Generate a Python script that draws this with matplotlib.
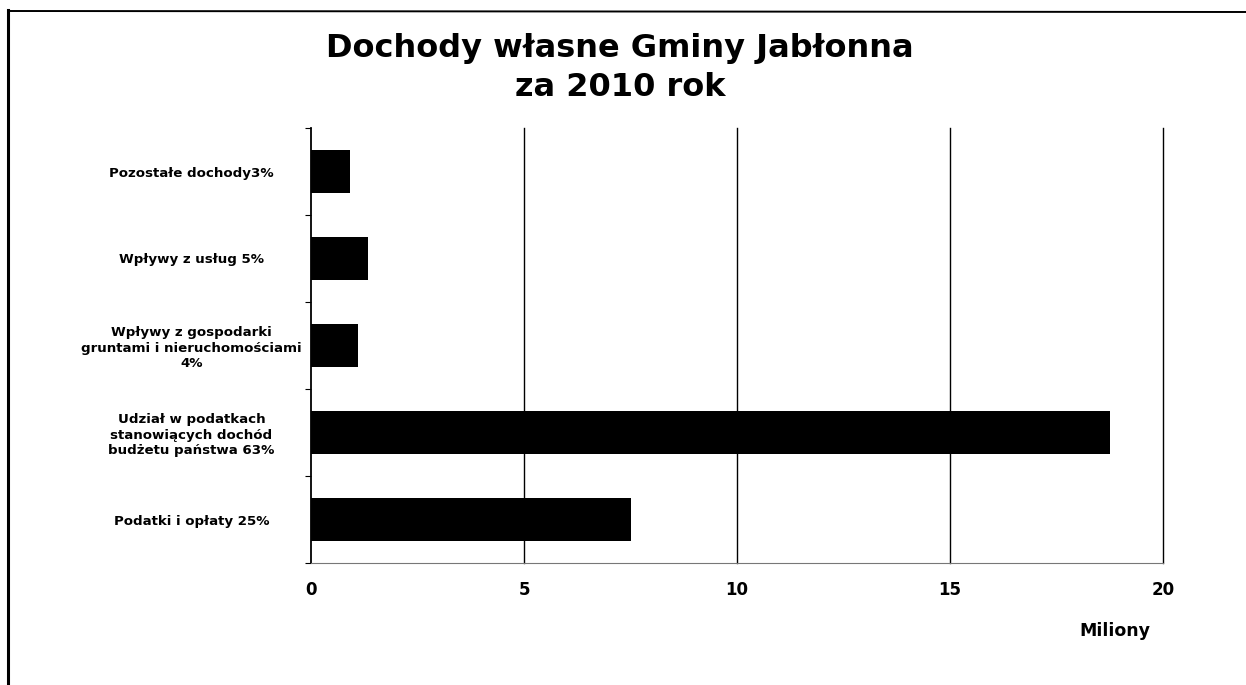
import matplotlib.pyplot as plt
from matplotlib.lines import Line2D

plt.rcParams['font.family'] = ['DejaVu Sans']

# categories bottom -> top
labels = ["Podatki i opłaty 25%",
          "Udział w podatkach\nstanowiących dochód\nbudżetu państwa 63%",
          "Wpływy z gospodarki\ngruntami i nieruchomościami\n4%",
          "Wpływy z usług 5%",
          "Pozostałe dochody3%"]
values = [7.52, 18.75, 1.10, 1.34, 0.92]
xticks = [0, 5, 10, 15, 20]

fig = plt.figure(figsize=(12.46, 6.85), dpi=100)
ax = fig.add_axes([311/1246, 1 - 563/685, (1163-311)/1246, (563-128)/685])

pos = list(range(len(values)))
ax.barh(pos, values, height=0.5, color="black", zorder=3)

ax.set_xlim(0, 20)
ax.set_ylim(-0.5, 4.5)
ax.set_xticks(xticks)
ax.set_xticklabels([str(t) for t in xticks], fontsize=12, fontweight="bold")
ax.tick_params(axis="x", length=0, pad=13)
ax.set_xticks([0], minor=True)
ax.tick_params(axis="x", which="minor", length=5, width=1.3)
for t in xticks[1:]:
    ax.axvline(t, color="black", linewidth=1.0, zorder=1, clip_on=False)

ax.set_yticks(pos)
ax.set_yticklabels(labels, fontsize=9.6, fontweight="bold", ha="center",
                   linespacing=1.22)
ax.tick_params(axis="y", length=0, pad=86)
ax.set_yticks([p - 0.5 for p in pos] + [4.5], minor=True)
ax.tick_params(axis="y", which="minor", length=4, width=0.8, direction="out")

for s in ["top", "right"]:
    ax.spines[s].set_visible(False)
ax.spines["left"].set_linewidth(1.3)
ax.spines["bottom"].set_color("#777777")
ax.spines["bottom"].set_linewidth(0.8)
ax.spines["bottom"].set_linestyle((0, (2, 1)))

fig.text(620/1246, 1 - 68/685, "Dochody własne Gminy Jabłonna\nza 2010 rok",
         ha="center", va="center", fontsize=23, fontweight="bold",
         linespacing=1.3)
fig.text(1115/1246, 1 - 631/685, "Miliony", ha="center", va="center",
         fontsize=12.5, fontweight="bold")

# frame of the scanned page
fig.add_artist(Line2D([8/1246, 8/1246], [0, 1 - 10/685], color="black",
                      linewidth=2.2, transform=fig.transFigure))
fig.add_artist(Line2D([8/1246, 1], [1 - 11/685, 1 - 12/685], color="black",
                      linewidth=1.4, transform=fig.transFigure))

fig.savefig("out.png", dpi=100)
